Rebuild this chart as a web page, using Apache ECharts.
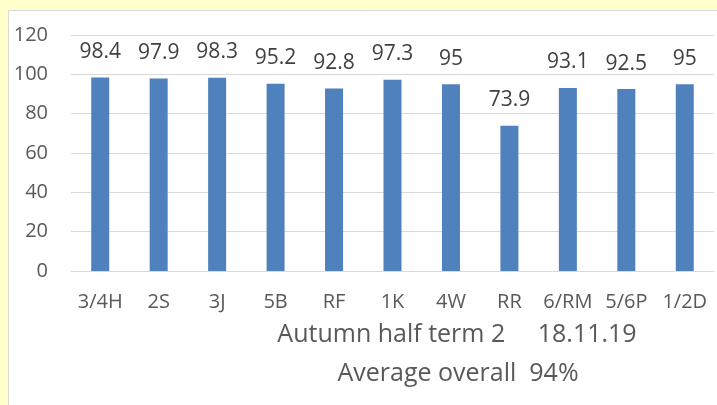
<!DOCTYPE html>
<html><head><meta charset="utf-8">
<script src="https://cdn.jsdelivr.net/npm/echarts@6/dist/echarts.min.js"></script>
<style>html,body{margin:0;padding:0;background:#FFFFCC;}#c{width:717px;height:405px;}</style>
</head><body><div id="c"></div>
<script>
const categories = ['3/4H','2S','3J','5B','RF','1K','4W','RR','6/RM','5/6P','1/2D'];
const values = [98.4,97.9,98.3,95.2,92.8,97.3,95,73.9,93.1,92.5,95];
const yTicks = {min:0, max:120, interval:20};
const title1 = 'Autumn half term 2     18.11.19';
const title2 = 'Average overall  94%';

const font = '"Open Sans", sans-serif';
const chart = echarts.init(document.getElementById('c'), null, {renderer:'canvas'});
chart.setOption({
  backgroundColor:'#FFFFCC',
  animation:false,
  graphic:[{type:'rect', z:-10, shape:{x:8.5,y:10.5,width:720,height:400}, style:{fill:'#ffffff', stroke:'#d9d9d9', lineWidth:1}}],
  title:[
    {text:title1, left:452, top:317, textAlign:'center', textStyle:{fontFamily:font, fontSize:25, fontWeight:'normal', color:'#595959'}},
    {text:title2, left:453, top:356, textAlign:'center', textStyle:{fontFamily:font, fontSize:25, fontWeight:'normal', color:'#595959'}}
  ],
  grid:{left:71, right:3, top:35, bottom:134, containLabel:false},
  xAxis:{type:'category', data:categories,
    axisLine:{lineStyle:{color:'#d9d9d9', width:1}}, axisTick:{show:false},
    axisLabel:{color:'#595959', fontFamily:font, fontSize:20, margin:21, interval:0}},
  yAxis:{type:'value', min:yTicks.min, max:yTicks.max, interval:yTicks.interval,
    axisLine:{show:false}, axisTick:{show:false},
    splitLine:{lineStyle:{color:'#d9d9d9', width:1}},
    axisLabel:{color:'#595959', fontFamily:font, fontSize:20, margin:23}},
  series:[{type:'bar', data:values, barWidth:18, itemStyle:{color:'#4F81BD'},
    label:{show:true, position:'top', distance:15, color:'#404040', fontFamily:font, fontSize:21}}]
});
</script></body></html>
